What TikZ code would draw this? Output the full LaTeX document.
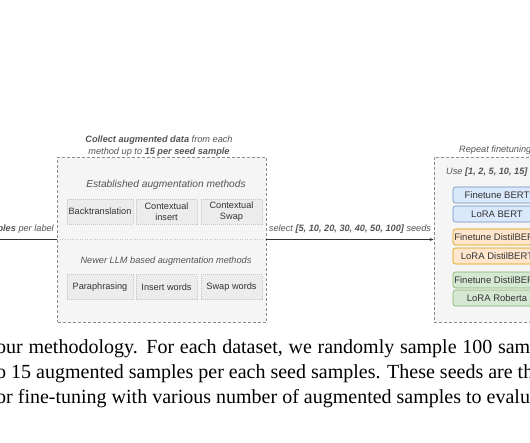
\documentclass[tikz,border=0pt]{standalone}
\usepackage{fontspec}
\setmainfont{Liberation Serif}
\newfontfamily\diafont{Liberation Sans}
\usepackage{tikz}
\usetikzlibrary{arrows.meta}

\definecolor{groupfill}{HTML}{F5F5F5}
\definecolor{groupline}{HTML}{8C8C8C}
\definecolor{methodfill}{HTML}{ECECEC}
\definecolor{methodline}{HTML}{C4C4C4}
\definecolor{darktext}{HTML}{333333}
\definecolor{softtext}{HTML}{555555}
\definecolor{bluefill}{HTML}{DAE8FC}
\definecolor{blueline}{HTML}{6C8EBF}
\definecolor{orangefill}{HTML}{FFE6CC}
\definecolor{orangeline}{HTML}{D79B00}
\definecolor{greenfill}{HTML}{D5E8D4}
\definecolor{greenline}{HTML}{82B366}

\tikzset{
  groupbox/.style={draw=groupline, fill=groupfill, dash pattern=on 3pt off 2pt, line width=0.7pt, inner sep=0pt},
  methodbox/.style={draw=methodline, fill=methodfill, dash pattern=on 1pt off 1pt, line width=0.5pt,
    minimum height=25pt, inner sep=0pt, align=center, text=darktext,
    font=\diafont\fontsize{9.2}{10.6}\selectfont},
  modelbox/.style={rounded corners=2.5pt, line width=0.6pt, minimum width=88pt, minimum height=16pt,
    inner sep=0pt, text=darktext, font=\diafont\fontsize{9.5}{11}\selectfont},
  headtext/.style={text=softtext, inner sep=0pt, font=\diafont\itshape\fontsize{9.2}{11.5}\selectfont},
  captext/.style={inner sep=0pt, anchor=base west, text=black, font=\fontsize{20}{24}\selectfont},
  link/.style={draw=darktext, line width=0.6pt}
}

\begin{document}
\begin{tikzpicture}[x=1pt, y=-1pt]
\useasboundingbox (0,0) rectangle (530,442);
\clip (0,0) rectangle (530,442);

% Group box with the augmentation methods
\node[groupbox, minimum width=208.5pt, minimum height=165pt] (collect) at (161.75,239.5) {};
\node[headtext, align=center] (collecttitle) at (159,146) {{\bfseries Collect augmented data} from each\\method up to {\bfseries 15 per seed sample}};
\node[headtext, font=\diafont\itshape\fontsize{10.2}{12}\selectfont] (established) at (166,184.5) {Established augmentation methods};
\draw[draw=methodline, dash pattern=on 1pt off 1.5pt, line width=0.6pt] (collect.west) -- (collect.east);
\node[headtext] (newer) at (166,261.5) {Newer LLM based augmentation methods};

% Established methods
\node[methodbox, minimum width=66pt] (backtrans) at (100,211.5) {Backtranslation};
\node[methodbox, minimum width=61pt] (ctxinsert) at (166.5,211.5) {Contextual\\insert};
\node[methodbox, minimum width=61pt] (ctxswap) at (231.5,211.5) {Contextual\\Swap};

% Newer LLM based methods
\node[methodbox, minimum width=66pt] (paraphrase) at (100,287) {Paraphrasing};
\node[methodbox, minimum width=61pt] (insertwords) at (166.5,287) {Insert words};
\node[methodbox, minimum width=61pt] (swapwords) at (231.5,287) {Swap words};

% Incoming samples on the left
\coordinate (samples) at (0,239.5);
\draw[link] (samples) -- (collect.west);
\node[headtext, anchor=east] (perlabel) at (54,229) {{\bfseries ples} per label};

% Group box for the finetuning runs
\node[groupbox, minimum width=140pt, minimum height=165pt] (repeat) at (504,239.5) {};
\node[headtext, anchor=west] (repeattitle) at (459,150) {Repeat finetuning};
\node[headtext, anchor=west] (usecount) at (446,172) {Use {\bfseries [1, 2, 5, 10, 15]}};

\node[modelbox, draw=blueline, fill=bluefill] (ftbert) at (497,195) {Finetune BERT};
\node[modelbox, draw=blueline, fill=bluefill] (lorabert) at (497,214) {LoRA BERT};
\node[modelbox, draw=orangeline, fill=orangefill] (ftdistil) at (497,237) {Finetune DistilBERT};
\node[modelbox, draw=orangeline, fill=orangefill] (loradistil) at (497,256) {LoRA DistilBERT};
\node[modelbox, draw=greenline, fill=greenfill] (ftother) at (497,280) {Finetune DistilBERT};
\node[modelbox, draw=greenline, fill=greenfill] (loraroberta) at (497,298) {LoRA Roberta};

% Seeds go from one box to the other
\draw[link, -{Stealth[length=4pt, width=3pt]}] (collect.east) -- (repeat.west)
  node[headtext, midway, above=6pt] (seedlabel) {select {\bfseries [5, 10, 20, 30, 40, 50, 100]} seeds};

% Caption lines below the figure (first one is justified wider)
\node[captext] (capone) at (-4,353) {\makebox[534pt][s]{our methodology. For each dataset, we randomly sample 100 sam}};
\node[captext] (captwo) at (-4,378) {o 15 augmented samples per each seed samples. These seeds are th};
\node[captext] (capthree) at (-4,403) {or fine-tuning with various number of augmented samples to evalu};

\end{tikzpicture}
\end{document}
